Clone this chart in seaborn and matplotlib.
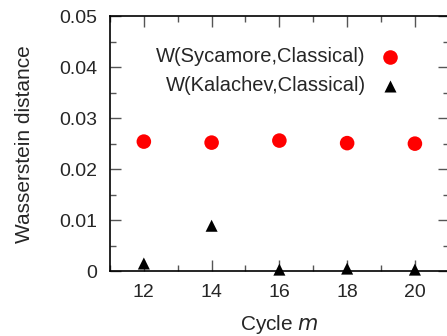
import numpy as np
import pandas as pd
import seaborn as sns
import matplotlib.pyplot as plt
from matplotlib.ticker import MultipleLocator

# Werte aus dem Bild gelesen
cycles = [12, 14, 16, 18, 20]
w_sycamore = [0.0254, 0.0252, 0.0256, 0.0251, 0.0250]
w_kalachev = [0.0015, 0.0089, 0.0003, 0.0005, 0.0003]
lab_syc = 'W(Sycamore,Classical)'
lab_kal = 'W(Kalachev,Classical)'

daten = pd.DataFrame({'m': cycles * 2,
                      'W': w_sycamore + w_kalachev,
                      'Reihe': [lab_syc] * 5 + [lab_kal] * 5})

sns.set_style('white')
plt.rcParams['font.family'] = ['Liberation Sans', 'DejaVu Sans']

fig = plt.figure(figsize=(4.47, 3.36), dpi=100)
ax = fig.add_axes([0.246, 0.193, 1.004 - 0.246, 0.952 - 0.193])

sns.scatterplot(ax=ax, data=daten, x='m', y='W', hue='Reihe', style='Reihe',
                palette={lab_syc: 'red', lab_kal: 'black'},
                markers={lab_syc: 'o', lab_kal: '^'},
                s=110, linewidth=0, legend=False, clip_on=False, zorder=5)
# Dreiecke kleiner
ax.collections[0].set_sizes([110 if r == lab_syc else 75 for r in daten['Reihe']])

ax.set_xlim(11, 21)
ax.set_ylim(0, 0.05)
ax.xaxis.set_major_locator(MultipleLocator(2))
ax.xaxis.set_minor_locator(MultipleLocator(1))
ax.yaxis.set_major_locator(MultipleLocator(0.01))
ax.yaxis.set_minor_locator(MultipleLocator(0.005))
ax.yaxis.set_major_formatter(lambda v, p: '0' if v == 0 else f'{v:.2f}')
ax.tick_params(which='both', direction='in', top=True, right=True,
               bottom=True, left=True, labelsize=14, color='#555555')
ax.tick_params(which='major', length=8, width=1, pad=9)
ax.tick_params(which='minor', length=4.5, width=1)
for s in ax.spines.values():
    s.set_color('black')
    s.set_linewidth(1.2)

ax.set_xlabel('Cycle $m$', fontsize=15, labelpad=9)
ax.set_ylabel('Wasserstein distance', fontsize=15, labelpad=18)

h1 = ax.scatter([], [], color='red', s=110, linewidth=0, marker='o')
h2 = ax.scatter([], [], color='black', s=75, linewidth=0, marker='^')
leg = ax.legend([h1, h2], [lab_syc, lab_kal], markerfirst=False, frameon=False,
                fontsize=14.5, loc='upper right', bbox_to_anchor=(0.915, 0.95),
                handletextpad=0.6, handlelength=1.2, labelspacing=0.5)

fig.savefig('out.png', dpi=100)
